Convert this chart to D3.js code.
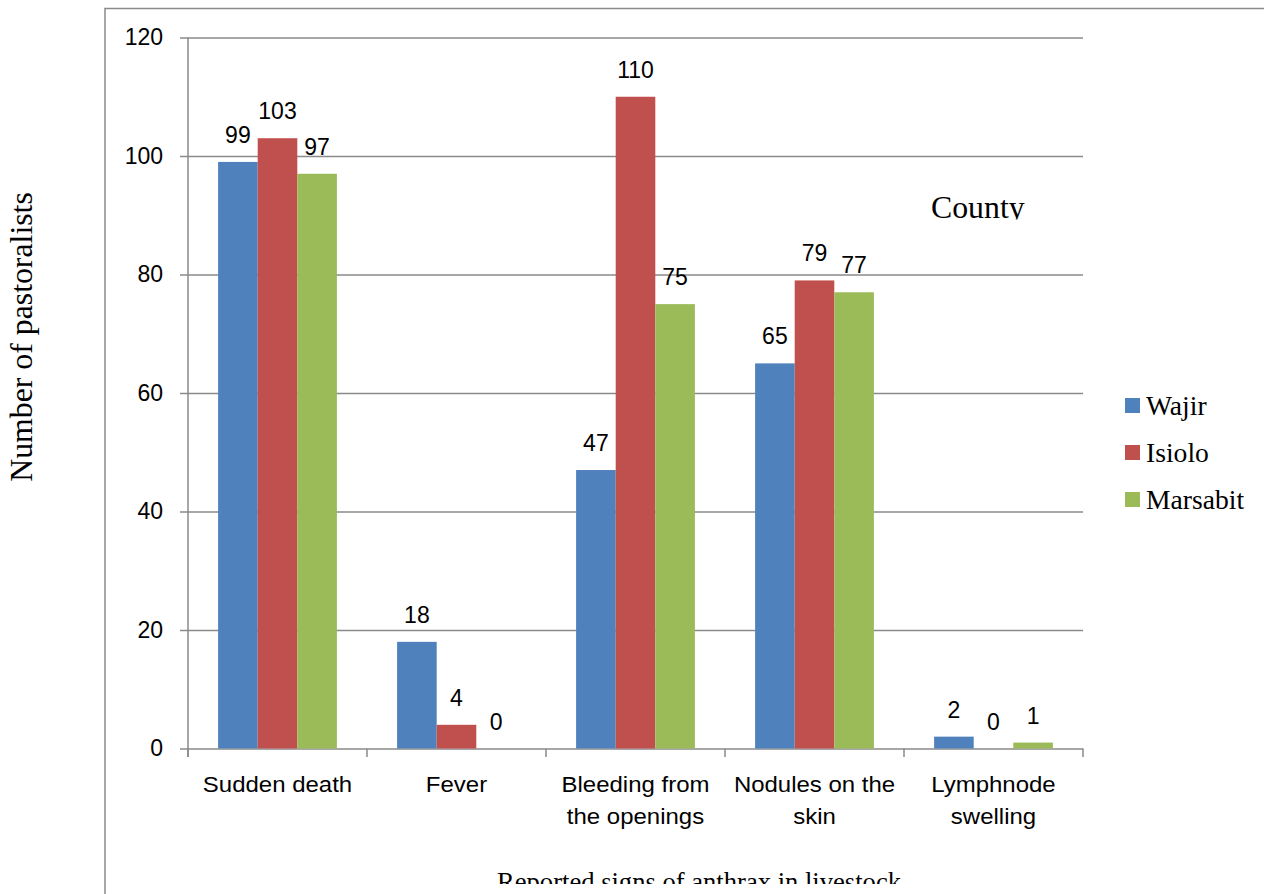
<!DOCTYPE html>
<html><head><meta charset="utf-8">
<script src="https://cdn.jsdelivr.net/npm/d3@7"></script>
<style>html,body{margin:0;padding:0;background:#fff;overflow:hidden}</style>
</head><body>
<svg id="chart" width="1264" height="894"></svg>
<script>
const categories = [["Sudden death"], ["Fever"], ["Bleeding from", "the openings"], ["Nodules on the", "skin"], ["Lymphnode", "swelling"]];
const seriesNames = ["Wajir", "Isiolo", "Marsabit"];
const wajir = [99, 18, 47, 65, 2];
const isiolo = [103, 4, 110, 79, 0];
const marsabit = [97, 0, 75, 77, 1];
const yTicks = [0, 20, 40, 60, 80, 100, 120];
const colors = ["#4F81BD", "#C0504D", "#9BBB59"];
const yTitle = "Number of pastoralists";
const xTitle = "Reported signs of anthrax in livestock";
const legendTitle = "County";

const seriesValues = [wajir, isiolo, marsabit];
const svg = d3.select("#chart");
const grid = "#8a8a8a";
const sans = "'Liberation Sans', Arial, sans-serif";
const serif = "'Liberation Serif', 'Times New Roman', serif";

const x = d3.scaleBand().domain(d3.range(categories.length)).range([188, 1083]).padding(0);
const xi = d3.scaleBand().domain(d3.range(seriesNames.length)).range([0, x.bandwidth()]).paddingInner(0).paddingOuter(0.76);
const y = d3.scaleLinear().domain([0, 120]).range([748.5, 37.5]);

const defs = svg.append("defs");
defs.append("clipPath").attr("id", "clipAll").append("rect").attr("x", 0).attr("y", 0).attr("width", 1264).attr("height", 884);
defs.append("clipPath").attr("id", "clipCounty").append("rect").attr("x", 800).attr("y", 150).attr("width", 400).attr("height", 69.5);

// outer border
svg.append("path").attr("d", "M105,900 L105,8.5 L1270,8.5").attr("fill", "none").attr("stroke", grid).attr("stroke-width", 1.5);

// y axis with gridlines
const ga = svg.append("g").attr("transform", "translate(188,0)")
  .call(d3.axisLeft(y).tickValues(yTicks).tickSize(8).tickPadding(17).tickFormat(d3.format("d")));
ga.select(".domain").remove();
ga.selectAll(".tick line").attr("stroke", grid).attr("stroke-width", 1.5).attr("x1", 1083 - 188).attr("x2", -8);
ga.selectAll(".tick text").attr("font-family", sans).attr("font-size", 23).attr("fill", "#000");

// y axis line
svg.append("line").attr("x1", 188).attr("x2", 188).attr("y1", y(120)).attr("y2", 757).attr("stroke", grid).attr("stroke-width", 1.5);

// x tick marks at category boundaries
const bounds = d3.range(categories.length + 1).map(i => i < categories.length ? x(i) : x(i - 1) + x.bandwidth());
svg.append("g").selectAll("line").data(bounds).join("line")
  .attr("x1", d => d).attr("x2", d => d).attr("y1", y(0)).attr("y2", 757)
  .attr("stroke", grid).attr("stroke-width", 1.5);

// bars + value labels
const groups = svg.append("g").selectAll("g").data(categories).join("g")
  .attr("transform", (d, i) => `translate(${x(i)},0)`);
groups.each(function(c, ci) {
  const g = d3.select(this);
  seriesValues.forEach((vals, si) => {
    const v = vals[ci];
    g.append("rect").attr("x", xi(si)).attr("width", xi.bandwidth())
      .attr("y", y(v)).attr("height", y(0) - y(v)).attr("fill", colors[si]);
    g.append("text").attr("x", xi(si) + xi.bandwidth() / 2).attr("y", y(v) - 19)
      .attr("text-anchor", "middle").attr("font-family", sans).attr("font-size", 23).attr("fill", "#000")
      .text(v);
  });
});

// category labels
svg.append("g").selectAll("g").data(categories).join("g")
  .attr("transform", (d, i) => `translate(${x(i) + x.bandwidth() / 2},0)`)
  .each(function(lines) {
    const g = d3.select(this);
    lines.forEach((t, li) => {
      g.append("text").attr("transform", `translate(0,${792 + li * 32}) scale(1.09,1)`)
        .attr("text-anchor", "middle").attr("font-family", sans).attr("font-size", 22).attr("fill", "#000").text(t);
    });
  });

// y title
svg.append("text").attr("transform", "translate(32,337) rotate(-90)")
  .attr("text-anchor", "middle").attr("font-family", serif).attr("font-size", 31.8).attr("fill", "#000").text(yTitle);

// x title (clipped at bottom as in the reference)
svg.append("text").attr("x", 699).attr("y", 891).attr("clip-path", "url(#clipAll)")
  .attr("text-anchor", "middle").attr("font-family", serif).attr("font-size", 26.6).attr("fill", "#000").text(xTitle);

// legend title (clipped)
svg.append("text").attr("x", 931).attr("y", 218).attr("clip-path", "url(#clipCounty)")
  .attr("font-family", serif).attr("font-size", 31.8).attr("fill", "#000").text(legendTitle);

// legend
const lg = svg.append("g").selectAll("g").data(seriesNames).join("g")
  .attr("transform", (d, i) => `translate(1125,${398 + i * 47})`);
lg.append("rect").attr("width", 15).attr("height", 15).attr("fill", (d, i) => colors[i]);
lg.append("text").attr("x", 21).attr("y", 17).attr("font-family", serif).attr("font-size", 27.6).attr("fill", "#000").text(d => d);
</script>
</body></html>
